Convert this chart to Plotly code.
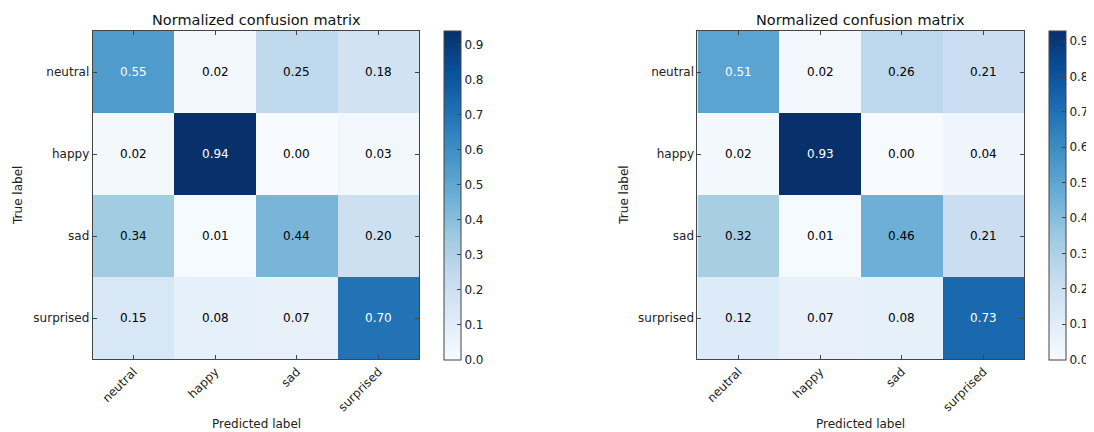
import plotly.graph_objects as go

labels = ["neutral", "happy", "sad", "surprised"]

cm_left = [
    [0.55, 0.02, 0.25, 0.18],
    [0.02, 0.94, 0.00, 0.03],
    [0.34, 0.01, 0.44, 0.20],
    [0.15, 0.08, 0.07, 0.70],
]
cm_right = [
    [0.51, 0.02, 0.26, 0.21],
    [0.02, 0.93, 0.00, 0.04],
    [0.32, 0.01, 0.46, 0.21],
    [0.12, 0.07, 0.08, 0.73],
]
title_text = "Normalized confusion matrix"
cbar_ticks = [0.0, 0.1, 0.2, 0.3, 0.4, 0.5, 0.6, 0.7, 0.8, 0.9]

blues = ["#f7fbff", "#deebf7", "#c6dbef", "#9ecae1", "#6baed6",
         "#4292c6", "#2171b5", "#08519c", "#08306b"]
colorscale = [[i / 8, c] for i, c in enumerate(blues)]

OFF = 8  # browser default body margin
W, H = 1094 - OFF, 432 - OFF
FONT = "DejaVu Sans"
AX = "#444444"

panels = [
    (cm_left, 93, 421, 446, 18),
    (cm_right, 700, 1028, 1053, 626),
]
top, bottom = 31 - OFF, 359 - OFF

fig = go.Figure()
annotations = []
for i, (cm, x0, x1, cbx, ylab_x) in enumerate(panels):
    x0, x1, cbx, ylab_x = x0 - OFF, x1 - OFF, cbx - OFF, ylab_x - OFF
    n = i + 1
    xa = "x" if n == 1 else f"x{n}"
    ya = "y" if n == 1 else f"y{n}"
    zmax = max(max(r) for r in cm)
    fig.add_trace(go.Heatmap(
        z=cm, x=list(range(4)), y=list(range(4)),
        xaxis=xa, yaxis=ya,
        colorscale=colorscale, zmin=0, zmax=zmax,
        hoverinfo="skip",
        colorbar=dict(
            x=cbx / W, xanchor="left", xref="paper",
            y=1 - (top + bottom) / 2 / H, yanchor="middle",
            len=(bottom - top + 1) / H, lenmode="fraction",
            thickness=17, thicknessmode="pixels",
            outlinecolor=AX, outlinewidth=1,
            ticks="inside", ticklen=4, tickcolor=AX,
            tickvals=cbar_ticks, ticktext=[f"{v:.1f}" for v in cbar_ticks],
            tickfont=dict(family=FONT, size=12, color="#222"),
            xpad=0, ypad=0,
        ),
    ))
    dom_x = [x0 / W, x1 / W]
    dom_y = [1 - bottom / H, 1 - top / H]
    axcommon = dict(showline=True, linecolor=AX, linewidth=1, mirror="allticks",
                    ticks="inside", ticklen=4, tickcolor=AX, showgrid=False,
                    zeroline=False, tickfont=dict(family=FONT, size=12, color="#222"),
                    tickvals=list(range(4)), ticktext=labels)
    fig.update_layout(**{
        ("xaxis" if n == 1 else f"xaxis{n}"): dict(domain=dom_x, range=[-0.5, 3.5],
                                                    anchor=ya, tickangle=-45, **axcommon),
        ("yaxis" if n == 1 else f"yaxis{n}"): dict(domain=dom_y, range=[3.5, -0.5],
                                                    anchor=xa, **axcommon),
    })
    thresh = zmax / 2
    for r in range(4):
        for c in range(4):
            v = cm[r][c]
            annotations.append(dict(
                x=c, y=r, xref=xa, yref=ya, text=f"{v:.2f}", showarrow=False,
                font=dict(family=FONT, size=12, color="white" if v > thresh else "black"),
            ))
    cx = (x0 + x1) / 2 / W
    annotations.append(dict(x=cx, y=1 - (20 - OFF) / H, xref="paper", yref="paper",
                            text=title_text, showarrow=False, xanchor="center", yanchor="middle",
                            font=dict(family=FONT, size=14.5, color="#111")))
    annotations.append(dict(x=cx, y=1 - (424 - OFF) / H, xref="paper", yref="paper",
                            text="Predicted label", showarrow=False, xanchor="center", yanchor="middle",
                            font=dict(family=FONT, size=12, color="#222")))
    annotations.append(dict(x=ylab_x / W, y=1 - (top + bottom) / 2 / H, xref="paper", yref="paper",
                            text="True label", showarrow=False, textangle=-90,
                            xanchor="center", yanchor="middle",
                            font=dict(family=FONT, size=12, color="#222")))

fig.update_layout(
    width=W, height=H, margin=dict(l=0, r=0, t=0, b=0),
    paper_bgcolor="white", plot_bgcolor="white",
    annotations=annotations, showlegend=False,
)
fig.write_html("out.html")
